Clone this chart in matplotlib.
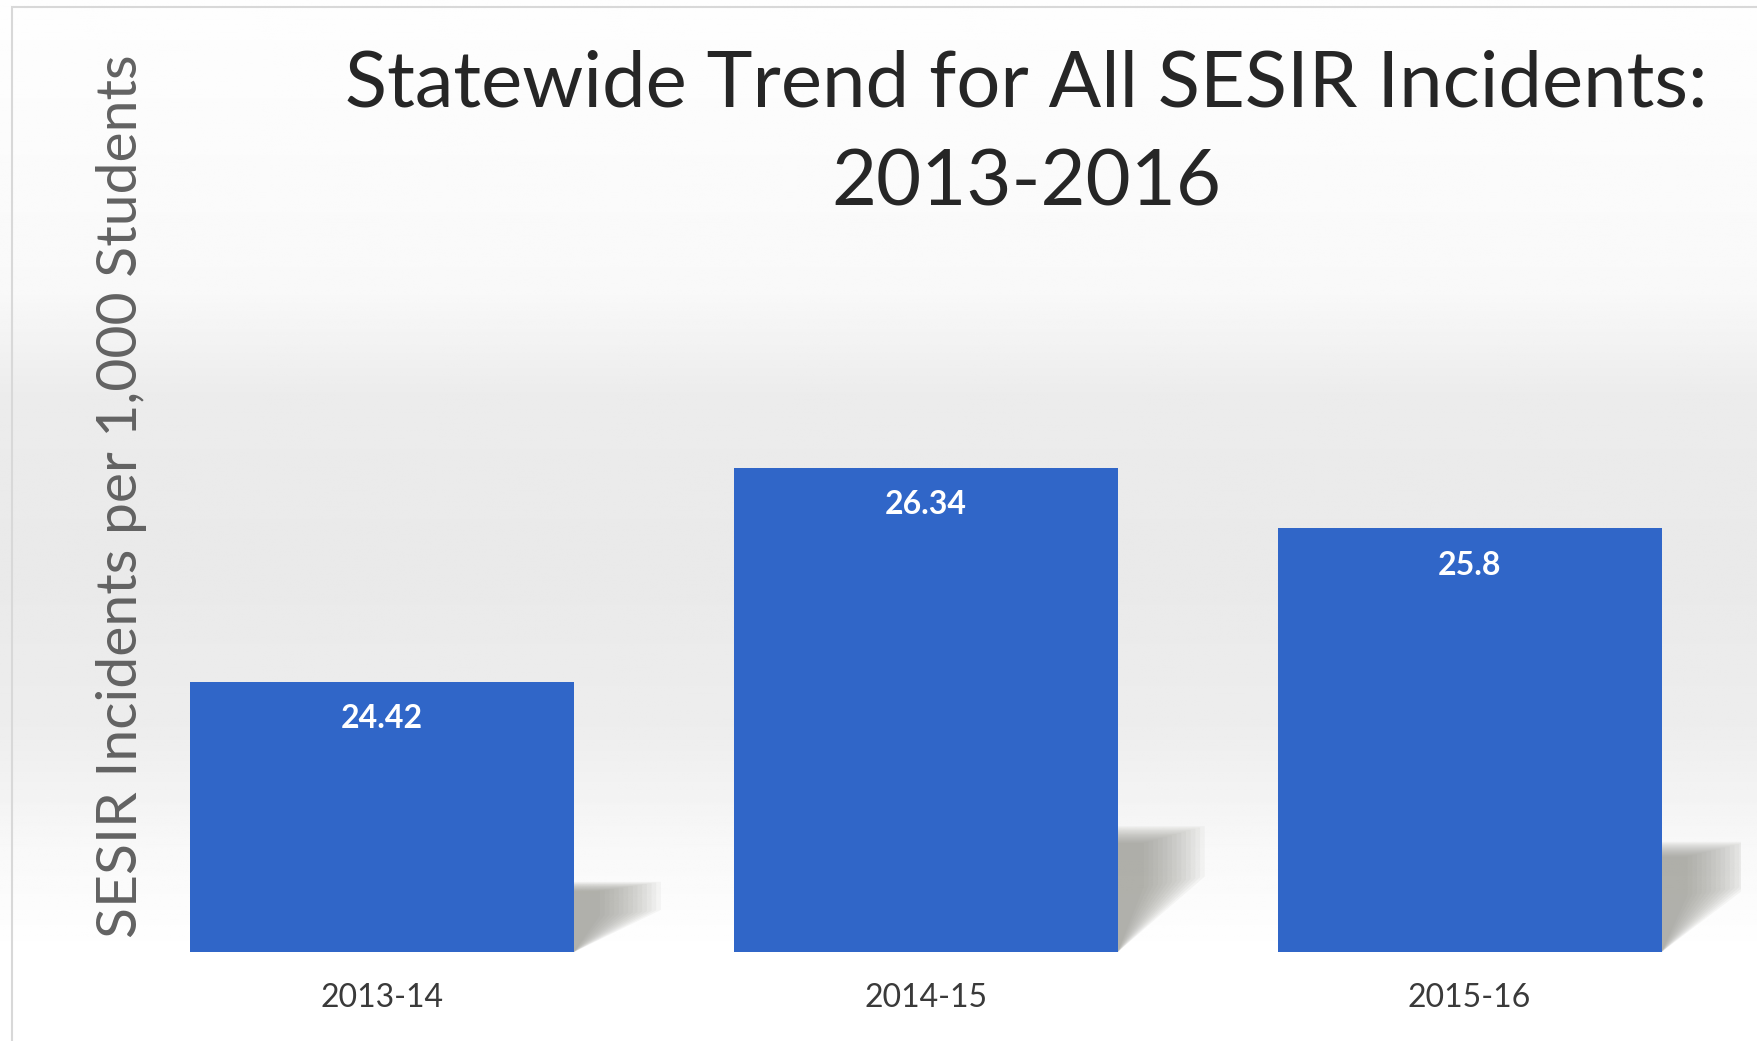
import numpy as np
import matplotlib
matplotlib.use("Agg")
import matplotlib.pyplot as plt
from matplotlib.patches import Polygon, Rectangle

# Data
years = ["2013-14", "2014-15", "2015-16"]
rates = [24.42, 26.34, 25.8]
labels = ["24.42", "26.34", "25.8"]

title = "Statewide Trend for All SESIR Incidents:\n2013-2016"
ylabel = "SESIR Incidents per 1,000 Students"

plt.rcParams['font.family'] = ['Lato', 'DejaVu Sans']

fig = plt.figure(figsize=(17.58, 10.41), dpi=100)

# soft grey band behind the chart
bg = fig.add_axes([0, 0, 1, 1], zorder=-10)
yy = np.linspace(0, 1, 400)
shade = np.interp(yy, [0, 0.08, 0.18, 0.30, 0.45, 0.62, 0.72, 1.0],
                  [1.0, 1.0, 0.975, 0.93, 0.915, 0.925, 0.975, 0.995])
bg.imshow(np.repeat(shade[:, None], 10, axis=1), cmap="gray", vmin=0, vmax=1,
          aspect="auto", extent=[0, 1, 0, 1], origin="lower")
bg.add_patch(Rectangle((0.007, -0.05), 1.1, 1.043, fill=False,
                       edgecolor="#d8d8d8", lw=1.5))
bg.set_xlim(0, 1)
bg.set_ylim(0, 1)
bg.axis("off")

ax = fig.add_axes([0.0626, 0.0855, 0.928, 0.6427])
ax.patch.set_alpha(0)
x = np.arange(len(years))
w = 0.706
base = 22
bars = ax.bar(x, [r - base for r in rates], bottom=base, width=w,
              color="#3066c8", zorder=3)

# blurred drop shadows to the right of each bar
for xi, r in zip(x, rates):
    right = xi + w / 2
    h = r - base
    for k in np.linspace(1.0, 0.3, 14):
        dx = 0.16 * k
        top = base + h * (0.26 - 0.05 * (1 - k))
        pts = [(right, top), (right + dx, top),
               (right + dx, top - 0.4 * (top - base)), (right, base)]
        ax.add_patch(Polygon(pts, closed=True, facecolor="#8c8c84",
                             edgecolor="none", alpha=0.07, zorder=2))

for b, t in zip(bars, labels):
    ax.text(b.get_x() + b.get_width() / 2, b.get_y() + b.get_height() - 0.33, t,
            ha="center", va="center", color="white", fontsize=23,
            fontweight="bold", zorder=4)

ax.set_xlim(-0.5, 2.5)
ax.set_ylim(base, 28)
ax.set_xticks(x)
ax.set_xticklabels(years, fontsize=23, color="#3a3a3a")
ax.tick_params(axis="x", length=0, pad=22)
ax.set_yticks([])
for s in ax.spines.values():
    s.set_visible(False)

fig.text(0.584, 0.871, title, ha="center", va="center", fontsize=56,
         color="#262626", linespacing=1.5)
fig.text(0.069, 0.523, ylabel, rotation=90, ha="center", va="center",
         fontsize=41, color="#626262")

plt.savefig("out.png", dpi=100)
plt.close()
